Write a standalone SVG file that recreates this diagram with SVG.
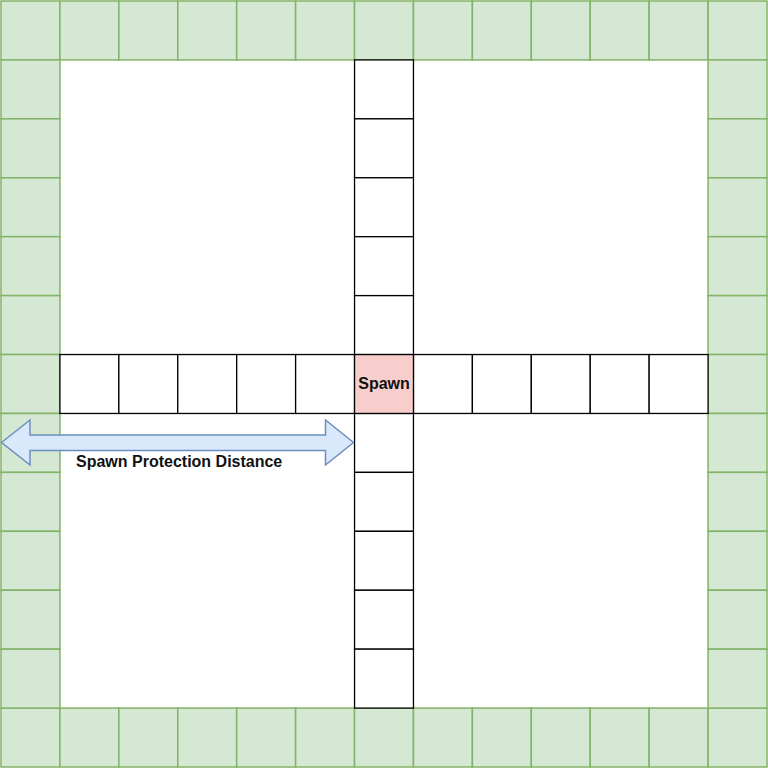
<svg xmlns="http://www.w3.org/2000/svg" width="768" height="768" viewBox="0 0 768 768">
<style>
.g{fill:#d5e8d4;stroke:#82b366;stroke-width:1.5}
.b{fill:#ffffff;stroke:#000000;stroke-width:1.3}
.s{fill:#f8cecc;stroke:#000000;stroke-width:1.3}
.t{font-family:"Liberation Sans",Arial,sans-serif;font-weight:bold;font-size:16px;fill:#111111}
</style>
<rect x="0" y="0" width="768" height="768" fill="#ffffff"/>
<g id="border">
<rect class="g" x="1" y="1" width="58.92" height="58.92"/>
<rect class="g" x="59.92" y="1" width="58.92" height="58.92"/>
<rect class="g" x="118.85" y="1" width="58.92" height="58.92"/>
<rect class="g" x="177.77" y="1" width="58.92" height="58.92"/>
<rect class="g" x="236.69" y="1" width="58.92" height="58.92"/>
<rect class="g" x="295.62" y="1" width="58.92" height="58.92"/>
<rect class="g" x="354.54" y="1" width="58.92" height="58.92"/>
<rect class="g" x="413.46" y="1" width="58.92" height="58.92"/>
<rect class="g" x="472.38" y="1" width="58.92" height="58.92"/>
<rect class="g" x="531.31" y="1" width="58.92" height="58.92"/>
<rect class="g" x="590.23" y="1" width="58.92" height="58.92"/>
<rect class="g" x="649.15" y="1" width="58.92" height="58.92"/>
<rect class="g" x="708.08" y="1" width="58.92" height="58.92"/>
<rect class="g" x="1" y="708.08" width="58.92" height="58.92"/>
<rect class="g" x="59.92" y="708.08" width="58.92" height="58.92"/>
<rect class="g" x="118.85" y="708.08" width="58.92" height="58.92"/>
<rect class="g" x="177.77" y="708.08" width="58.92" height="58.92"/>
<rect class="g" x="236.69" y="708.08" width="58.92" height="58.92"/>
<rect class="g" x="295.62" y="708.08" width="58.92" height="58.92"/>
<rect class="g" x="354.54" y="708.08" width="58.92" height="58.92"/>
<rect class="g" x="413.46" y="708.08" width="58.92" height="58.92"/>
<rect class="g" x="472.38" y="708.08" width="58.92" height="58.92"/>
<rect class="g" x="531.31" y="708.08" width="58.92" height="58.92"/>
<rect class="g" x="590.23" y="708.08" width="58.92" height="58.92"/>
<rect class="g" x="649.15" y="708.08" width="58.92" height="58.92"/>
<rect class="g" x="708.08" y="708.08" width="58.92" height="58.92"/>
<rect class="g" x="1" y="59.92" width="58.92" height="58.92"/>
<rect class="g" x="1" y="118.85" width="58.92" height="58.92"/>
<rect class="g" x="1" y="177.77" width="58.92" height="58.92"/>
<rect class="g" x="1" y="236.69" width="58.92" height="58.92"/>
<rect class="g" x="1" y="295.62" width="58.92" height="58.92"/>
<rect class="g" x="1" y="354.54" width="58.92" height="58.92"/>
<rect class="g" x="1" y="413.46" width="58.92" height="58.92"/>
<rect class="g" x="1" y="472.38" width="58.92" height="58.92"/>
<rect class="g" x="1" y="531.31" width="58.92" height="58.92"/>
<rect class="g" x="1" y="590.23" width="58.92" height="58.92"/>
<rect class="g" x="1" y="649.15" width="58.92" height="58.92"/>
<rect class="g" x="708.08" y="59.92" width="58.92" height="58.92"/>
<rect class="g" x="708.08" y="118.85" width="58.92" height="58.92"/>
<rect class="g" x="708.08" y="177.77" width="58.92" height="58.92"/>
<rect class="g" x="708.08" y="236.69" width="58.92" height="58.92"/>
<rect class="g" x="708.08" y="295.62" width="58.92" height="58.92"/>
<rect class="g" x="708.08" y="354.54" width="58.92" height="58.92"/>
<rect class="g" x="708.08" y="413.46" width="58.92" height="58.92"/>
<rect class="g" x="708.08" y="472.38" width="58.92" height="58.92"/>
<rect class="g" x="708.08" y="531.31" width="58.92" height="58.92"/>
<rect class="g" x="708.08" y="590.23" width="58.92" height="58.92"/>
<rect class="g" x="708.08" y="649.15" width="58.92" height="58.92"/>
</g>
<g id="row">
<rect class="b" x="59.92" y="354.54" width="58.92" height="58.92"/>
<rect class="b" x="118.85" y="354.54" width="58.92" height="58.92"/>
<rect class="b" x="177.77" y="354.54" width="58.92" height="58.92"/>
<rect class="b" x="236.69" y="354.54" width="58.92" height="58.92"/>
<rect class="b" x="295.62" y="354.54" width="58.92" height="58.92"/>
<rect class="b" x="413.46" y="354.54" width="58.92" height="58.92"/>
<rect class="b" x="472.38" y="354.54" width="58.92" height="58.92"/>
<rect class="b" x="531.31" y="354.54" width="58.92" height="58.92"/>
<rect class="b" x="590.23" y="354.54" width="58.92" height="58.92"/>
<rect class="b" x="649.15" y="354.54" width="58.92" height="58.92"/>
</g>
<g id="column">
<rect class="b" x="354.54" y="59.92" width="58.92" height="58.92"/>
<rect class="b" x="354.54" y="118.85" width="58.92" height="58.92"/>
<rect class="b" x="354.54" y="177.77" width="58.92" height="58.92"/>
<rect class="b" x="354.54" y="236.69" width="58.92" height="58.92"/>
<rect class="b" x="354.54" y="295.62" width="58.92" height="58.92"/>
<rect class="b" x="354.54" y="413.46" width="58.92" height="58.92"/>
<rect class="b" x="354.54" y="472.38" width="58.92" height="58.92"/>
<rect class="b" x="354.54" y="531.31" width="58.92" height="58.92"/>
<rect class="b" x="354.54" y="590.23" width="58.92" height="58.92"/>
<rect class="b" x="354.54" y="649.15" width="58.92" height="58.92"/>
</g>
<g id="spawn">
<rect class="s" x="354.54" y="354.54" width="58.92" height="58.92"/>
<text class="t" x="384" y="389" text-anchor="middle">Spawn</text>
</g>
<g id="connectors">
<polygon points="1.5,442.5 30,420 30,435 325.5,435 325.5,420 353.5,442.5 325.5,465 325.5,450.5 30,450.5 30,465" fill="#dae8fc" stroke="#6c8ebf" stroke-width="1.5" stroke-linejoin="miter"/>
</g>
<g id="label">
<text class="t" x="76" y="467">Spawn Protection Distance</text>
</g>
</svg>
